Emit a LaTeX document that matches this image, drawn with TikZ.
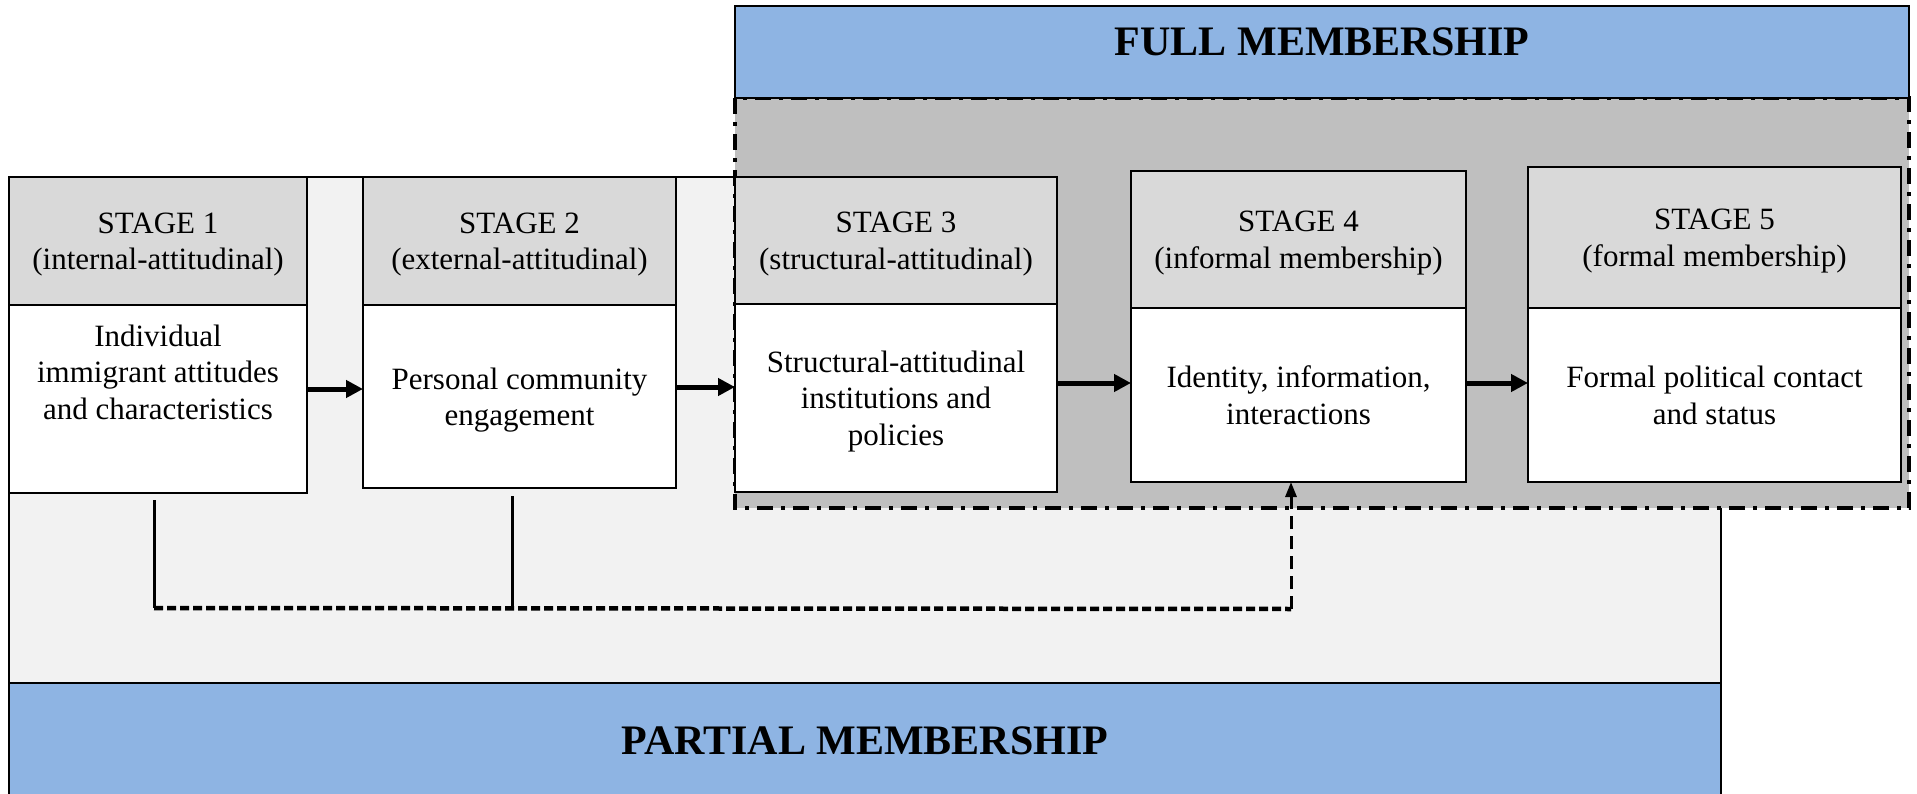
\documentclass[tikz,border=0pt]{standalone}
\usepackage{fontspec}
\setmainfont{Liberation Serif}
\usetikzlibrary{arrows.meta}
\definecolor{bandblue}{HTML}{8EB4E3}
\definecolor{hdrgray}{HTML}{D9D9D9}
\definecolor{fullgray}{HTML}{BFBFBF}
\definecolor{partgray}{HTML}{F2F2F2}
\begin{document}
\begin{tikzpicture}[x=1pt,y=-1pt,
  stagebox/.style={draw=black, line width=1.5pt, align=center, inner sep=0pt, outer sep=0pt,
    text depth=0pt, font=\fontsize{31}{36.5}\selectfont},
  headcell/.style={stagebox, fill=hdrgray},
  bodycell/.style={stagebox, fill=white},
  plaintext/.style={align=center, inner sep=0pt, font=\fontsize{31}{36.5}\selectfont},
  bandtext/.style={inner sep=0pt, font=\fontsize{42}{48}\selectfont\bfseries},
  flowarrow/.style={line width=5pt, -{Triangle[length=17pt,width=17pt]}},
  stemline/.style={line width=3pt},
  linkdash/.style={line width=4.5pt, dash pattern=on 9pt off 4pt},
  risedash/.style={line width=3pt, dash pattern=on 13pt off 7pt, -{Triangle[length=15pt,width=11pt]}},
  zoneedge/.style={line width=4pt, dash pattern=on 16pt off 8pt on 4pt off 8pt}
]
\useasboundingbox (0,0) rectangle (1917,794);

% partial-membership zone and its band
\fill[partgray, draw=black, line width=1.5pt] (9,177) rectangle (1721,683);
\fill[bandblue, draw=black, line width=2pt] (9,683) rectangle (1721,800);
\node[bandtext] (partial) at (865,741) {PARTIAL MEMBERSHIP};

% full-membership zone and its band
\fill[fullgray] (735,98) rectangle (1909,508);
\draw[zoneedge] (735,98) rectangle (1909,508);
\fill[bandblue, draw=black, line width=2pt] (735,6) rectangle (1909,98);
\node[bandtext] (full) at (1322,41.5) {FULL MEMBERSHIP};

% stage 1
\node[headcell, minimum width=298pt, minimum height=128pt] (h1) at (158,241)
  {STAGE 1\\(internal-attitudinal)};
\node[bodycell, minimum width=298pt, minimum height=188pt] (b1) at (158,399) {};
\node[plaintext] (t1) at (158,372) {Individual\\immigrant attitudes\\and characteristics};

% stage 2
\node[headcell, minimum width=313pt, minimum height=128pt] (h2) at (519.5,241)
  {STAGE 2\\(external-attitudinal)};
\node[bodycell, minimum width=313pt, minimum height=183pt] (b2) at (519.5,396.5)
  {Personal community\\engagement};

% stage 3
\node[headcell, minimum width=322pt, minimum height=127pt] (h3) at (896,240.5)
  {STAGE 3\\(structural-attitudinal)};
\node[bodycell, minimum width=322pt, minimum height=188pt] (b3) at (896,398)
  {Structural-attitudinal\\institutions and\\policies};

% stage 4
\node[headcell, minimum width=335pt, minimum height=137pt] (h4) at (1298.5,239.5)
  {STAGE 4\\(informal membership)};
\node[bodycell, minimum width=335pt, minimum height=174pt] (b4) at (1298.5,395)
  {Identity, information,\\interactions};

% stage 5
\node[headcell, minimum width=373pt, minimum height=141pt] (h5) at (1714.5,237.5)
  {STAGE 5\\(formal membership)};
\node[bodycell, minimum width=373pt, minimum height=174pt] (b5) at (1714.5,395)
  {Formal political contact\\and status};

% stage-to-stage arrows
\draw[flowarrow] (b1.east |- 0,389) -- (b2.west |- 0,389);
\draw[flowarrow] (b2.east |- 0,387) -- (b3.west |- 0,387);
\draw[flowarrow] (b3.east |- 0,383) -- (b4.west |- 0,383);
\draw[flowarrow] (b4.east |- 0,383) -- (b5.west |- 0,383);

% shortcut from stages 1 and 2 to stage 4
\coordinate (j1) at (154,608);
\coordinate (j2) at (512,608);
\coordinate (j3) at (1291,609);
\draw[stemline] ([yshift=-7pt]b1.south -| j1) -- (j1);
\draw[stemline] ([yshift=-8pt]b2.south -| j2) -- (j2);
\draw[linkdash] (j1) -- (j3);
\draw[risedash] (j3) -- (b4.south -| j3);
\end{tikzpicture}
\end{document}
